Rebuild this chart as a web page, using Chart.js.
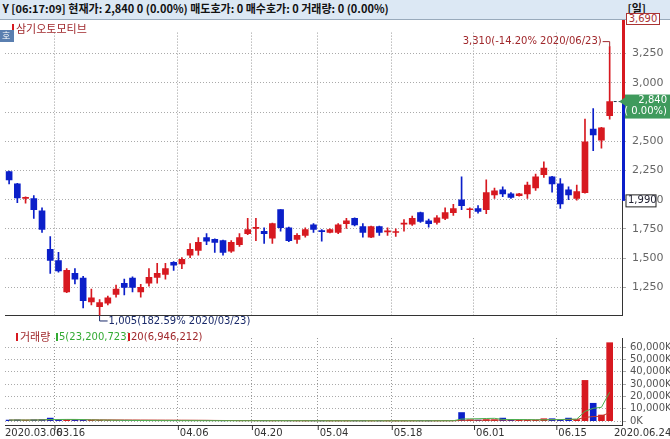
<!DOCTYPE html>
<html><head><meta charset="utf-8">
<script src="https://cdn.jsdelivr.net/npm/chart.js@4"></script>
<style>
body{margin:0;width:670px;height:439px;overflow:hidden;background:#fff;font-family:"Noto Sans CJK KR",sans-serif;position:relative}
#bar{position:absolute;left:0;top:0;width:670px;height:19px;background:#dce8f4;border-bottom:1px solid #9ab;font:bold 11px "Noto Sans CJK KR";line-height:17px;color:#111;white-space:pre}
canvas{position:absolute;left:0}
#hi{position:absolute;left:626px;top:13px;width:32px;height:10px;border:1px solid #a33;background:#fff;color:#a33;font:10px "DejaVu Sans";line-height:10px;text-align:center;z-index:3}
</style></head><body>
<div id="bar"> Y [06:17:09] 현재가: 2,840 0 (0.00%) 매도호가: 0 매수호가: 0 거래량: 0 (0.00%)<span style="position:absolute;right:24px">[일]</span></div>
<div id="hi"></div>
<canvas id="c1" width="670" height="308" style="top:20px"></canvas>
<canvas id="c2" width="670" height="111" style="top:328px"></canvas>
<script>
const dates=["03/06","03/09","03/10","03/11","03/12","03/13","03/16","03/17","03/18","03/19","03/20","03/23","03/24","03/25","03/26","03/27","03/30","03/31",
"04/01","04/02","04/03","04/06","04/07","04/08","04/09","04/10","04/13","04/14","04/16","04/17","04/20","04/21","04/22","04/23","04/24","04/27","04/28","04/29",
"05/04","05/06","05/07","05/08","05/11","05/12","05/13","05/14","05/15","05/18","05/19","05/20","05/21","05/22","05/25","05/26","05/27","05/28","05/29",
"06/01","06/02","06/03","06/04","06/05","06/08","06/09","06/10","06/11","06/12","06/15","06/16","06/17","06/18","06/19","06/22","06/23",""];
const opens=[2240,2135,2010,2010,1905,1575,1480,1210,1370,1330,1125,1085,1115,1190,1285,1330,1210,1285,1335,1360,1465,1450,1525,1565,1675,1660,1650,1560,1615,1710,1755,1730,1670,1915,1760,1660,1695,1785,1735,1720,1720,1795,1840,1770,1680,1770,1725,1720,1790,1790,1890,1820,1805,1840,1890,2000,1915,1925,1915,2040,2085,2050,2035,2050,2100,2215,2195,2135,2085,2010,2060,2605,2510,2720];
const highs=[2245,2140,2025,2035,1930,1685,1550,1410,1410,1345,1235,1145,1175,1270,1320,1340,1275,1410,1455,1455,1470,1505,1625,1675,1710,1665,1655,1650,1710,1840,1840,1760,1800,1915,1765,1710,1760,1795,1745,1750,1795,1840,1845,1795,1775,1775,1760,1750,1830,1860,1895,1835,1865,1930,1960,2195,1930,1950,2170,2100,2110,2060,2055,2150,2220,2325,2200,2180,2110,2125,2690,2780,2620,3310];
const lows=[2135,1975,1970,1840,1720,1370,1380,1205,1280,1075,1100,1005,1100,1165,1185,1210,1165,1260,1285,1320,1395,1410,1505,1525,1615,1550,1525,1550,1600,1700,1650,1625,1625,1730,1640,1625,1680,1720,1645,1715,1710,1755,1775,1680,1675,1695,1695,1685,1730,1780,1805,1765,1790,1830,1865,1915,1845,1885,1880,2010,2025,2010,2030,2010,2080,2190,2065,1925,2000,1995,2055,2420,2440,2690];
const closes=[2170,2015,2020,1915,1745,1480,1390,1395,1320,1135,1160,1120,1160,1235,1250,1250,1250,1335,1370,1410,1440,1490,1575,1635,1645,1635,1550,1635,1675,1745,1760,1710,1795,1760,1650,1695,1745,1745,1730,1745,1785,1820,1785,1720,1770,1720,1730,1725,1800,1840,1815,1795,1845,1890,1925,1950,1920,1900,2060,2075,2050,2020,2050,2125,2195,2270,2135,1965,2040,2070,2495,2555,2615,2840];
const volumes=[900,1000,800,1100,1300,2500,1200,1000,1100,900,800,700,600,600,500,500,500,500,450,450,400,400,450,400,400,400,350,400,350,400,400,350,350,400,350,300,300,350,300,300,300,300,300,300,300,300,300,300,300,350,350,300,350,400,500,7000,1200,900,1300,1200,2500,1000,800,900,700,2000,2000,900,2500,1200,33000,14500,5000,63500];
const priceTicks=[1250,1500,1750,2000,2250,2500,2750,3000,3250];
const volTicks=[0,10000,20000,30000,40000,50000,60000];
const xLabelIdx=[6,21,30,38,47,57,67];
const periodHigh=3690, periodLow=1990, lastClose=2840;
const hiIdx=73, loIdx=11;

const RED='#d71920', BLUE='#0b1fc9';
const col=opens.map((o,i)=>closes[i]>=o?RED:BLUE);
const fmt=v=>v.toLocaleString('en-US');
document.getElementById('hi').textContent=fmt(periodHigh);
const ma=(p)=>volumes.map((v,i)=>{if(i<p-1)return volumes.slice(0,i+1).reduce((a,b)=>a+b,0)/(i+1);let s=0;for(let k=i-p+1;k<=i;k++)s+=volumes[k];return s/p;});
const gridColor=(ctx)=>xLabelIdx.includes(ctx.index)?'#999':'rgba(0,0,0,0)';
const fixW={afterFit:(s)=>{s.width=48;}};

const candlePlugin={id:'cp',afterDatasetsDraw(ch){
 const c=ch.ctx,x=ch.scales.x,y=ch.scales.y,a=ch.chartArea;
 c.save();
 c.fillStyle=RED;c.fillRect(a.right,0,3,y.getPixelForValue(lastClose));
 c.fillStyle=BLUE;c.fillRect(a.right,y.getPixelForValue(lastClose),3,y.getPixelForValue(periodLow)-y.getPixelForValue(lastClose));
 const yc=y.getPixelForValue(lastClose);
 c.strokeStyle='#234';c.setLineDash([3,2]);c.beginPath();c.moveTo(x.getPixelForValue(hiIdx)+4,yc);c.lineTo(a.right,yc);c.stroke();c.setLineDash([]);
 c.font='10px "DejaVu Sans"';c.fillStyle='#a0282c';c.strokeStyle='#a0282c';
 const xh=x.getPixelForValue(hiIdx),yh=y.getPixelForValue(highs[hiIdx]);
 c.textAlign='right';c.textBaseline='middle';c.fillText('3,310(-14.20% 2020/06/23)',xh-8,yh-5);
 c.beginPath();c.moveTo(xh-7,yh-5);c.lineTo(xh,yh-5);c.lineTo(xh,yh);c.stroke();
 c.fillStyle='#1a2a6a';c.strokeStyle='#1a2a6a';
 const xl=x.getPixelForValue(loIdx),yl=y.getPixelForValue(lows[loIdx]);
 c.textAlign='left';c.fillText('1,005(182.59% 2020/03/23)',xl+9,yl+5);
 c.beginPath();c.moveTo(xl,yl);c.lineTo(xl,yl+5);c.lineTo(xl+8,yl+5);c.stroke();
 c.fillStyle='#3f9a5c';c.fillRect(a.right+3,yc-7,46,24);
 c.fillStyle='#fff';c.textAlign='right';c.fillText('2,840',667,yc-1);c.fillText('( 0.00%)',667,yc+10);
 c.fillStyle='#3f9a5c';c.beginPath();c.moveTo(a.right-3,yc);c.lineTo(a.right+3,yc-4);c.lineTo(a.right+3,yc+4);c.fill();
 const yl2=y.getPixelForValue(periodLow);
 c.fillStyle='#fff';c.fillRect(a.right+4,yl2-6,30,12);c.strokeStyle='#222';c.strokeRect(a.right+4,yl2-6,30,12);
 c.fillStyle='#223';c.textAlign='left';c.fillText(fmt(periodLow),a.right+6,yl2);
 c.font='11px "Noto Sans CJK KR"';c.fillStyle='#a0282c';c.fillText('삼기오토모티브',16,9);
 c.fillStyle=RED;c.fillRect(12,4,2,9);
 c.fillStyle='#5a7fb0';c.fillRect(0,10,14,12);c.fillStyle='#fff';c.font='9px "Noto Sans CJK KR"';c.fillText('호',2,16);
 c.restore();
}};

new Chart(document.getElementById('c1'),{type:'bar',
 data:{labels:dates,datasets:[
  {data:lows.map((l,i)=>[l,highs[i]]),backgroundColor:col,barThickness:1,grouped:false,order:2},
  {data:opens.map((o,i)=>{let c=closes[i];if(Math.abs(c-o)<8)c=o+(c>=o?8:-8);return [o,c];}),backgroundColor:col,barThickness:6,grouped:false,order:1}]},
 options:{responsive:false,animation:false,layout:{padding:{top:2,left:5,bottom:3}},
  plugins:{legend:{display:false},tooltip:{enabled:false}},
  scales:{x:{display:true,ticks:{display:false},border:{display:true,color:'#333',dash:[1,2]},grid:{color:gridColor,lineWidth:1,drawTicks:false}},
   y:{position:'right',min:1010,max:3430,...fixW,border:{color:'#333',dash:[1,2]},
    afterBuildTicks:(s)=>{s.ticks=priceTicks.map(v=>({value:v}));},
    ticks:{color:'#666',font:{size:11,family:'DejaVu Sans'},callback:v=>fmt(v),padding:6},
    grid:{color:'#aaa',drawTicks:true,tickLength:4}}}},
 plugins:[candlePlugin]});

const m5=ma(5),m20=ma(20);
const volPlugin={id:'vp',afterDraw(ch){
 const c=ch.ctx,x=ch.scales.x,a=ch.chartArea;c.save();
 c.font='10px "DejaVu Sans"';c.textBaseline='top';c.fillStyle='#333';c.textAlign='left';
 c.fillText('2020.03.06',5,a.bottom+3);
 xLabelIdx.forEach(i=>{const px=x.getPixelForValue(i)-4;c.fillText(dates[i].replace('/','.'),px+2,a.bottom+3);c.fillRect(px,a.bottom,1,5);});
 c.fillText('2020.06.24',614,a.bottom+3);
 c.font='11px "Noto Sans CJK KR"';c.textBaseline='middle';
 c.fillStyle=RED;c.fillRect(16,5,2,8);c.fillStyle='#a0282c';c.fillText('거래량',20,9);
 c.fillStyle='#3a3';c.fillRect(56,5,2,8);c.fillStyle='#3a3';c.font='10px "DejaVu Sans"';c.fillText('5(23,200,723)',59,9);
 c.fillStyle=RED;c.fillRect(128,5,2,8);c.fillStyle='#a0282c';c.fillText('20(6,946,212)',131,9);
 c.restore();}};
new Chart(document.getElementById('c2'),{type:'bar',
 data:{labels:dates,datasets:[
  {type:'line',data:m5,borderColor:'#4caf50',borderWidth:1,pointRadius:0,order:0},
  {type:'line',data:m20,borderColor:'#c0392b',borderWidth:1,pointRadius:0,order:0},
  {data:volumes,backgroundColor:col,barThickness:6,order:1}]},
 options:{responsive:false,animation:false,layout:{padding:{top:2,left:5,bottom:14}},
  plugins:{legend:{display:false},tooltip:{enabled:false}},
  scales:{x:{ticks:{display:false},border:{color:'#333',dash:[1,2]},grid:{color:gridColor,drawTicks:false}},
   y:{position:'right',min:-3080,max:67300,...fixW,border:{color:'#333',dash:[1,2]},
    afterBuildTicks:(s)=>{s.ticks=volTicks.map(v=>({value:v}));},
    ticks:{color:'#555',font:{size:10,family:'DejaVu Sans'},callback:v=>fmt(v)+'K',padding:4},
    grid:{color:'#aaa',tickLength:4}}}},
 plugins:[volPlugin]});
</script></body></html>
